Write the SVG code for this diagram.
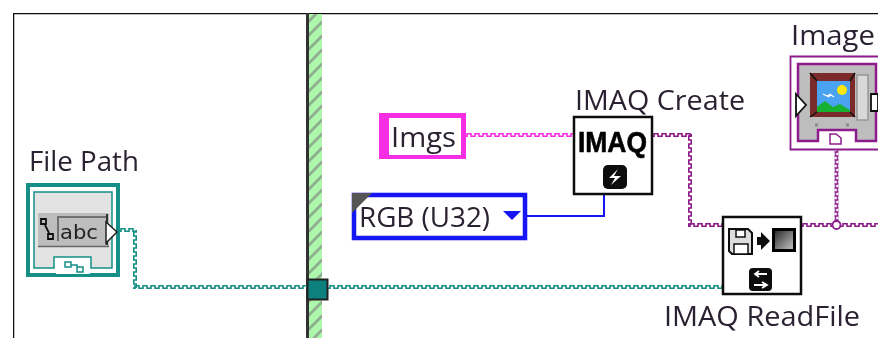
<svg xmlns="http://www.w3.org/2000/svg" width="878" height="338" viewBox="0 0 878 338">
<defs>
<pattern id="hatch" width="14" height="14" patternUnits="userSpaceOnUse" patternTransform="translate(309 0)">
<rect width="14" height="14" fill="#acf7ac"/>
<path d="M-2 9L9 -2M-2 23L16 5M5 16L16 5" stroke="#8fae8f" stroke-width="2.800" fill="none"/>
</pattern>
<pattern id="th" x="0" y="-2" width="8" height="4" patternUnits="userSpaceOnUse"><path d="M-1 3.200H2V.8H6V3.200H9" fill="none" stroke="#138f86" stroke-width="1.600"/></pattern>
<pattern id="tv" x="-2" y="0" width="4" height="8" patternUnits="userSpaceOnUse"><path d="M3.200 -1V2H.8V6H3.200V9" fill="none" stroke="#138f86" stroke-width="1.600"/></pattern>
<pattern id="ph" x="0" y="-2" width="8" height="4" patternUnits="userSpaceOnUse"><path d="M-1 3.200H2V.8H6V3.200H9" fill="none" stroke="#f52fe4" stroke-width="1.600"/></pattern>
<pattern id="uh" x="0" y="-2" width="8" height="4" patternUnits="userSpaceOnUse"><path d="M-1 3.200H2V.8H6V3.200H9" fill="none" stroke="#8c1c8c" stroke-width="1.600"/></pattern>
<pattern id="uv" x="-2" y="0" width="4" height="8" patternUnits="userSpaceOnUse"><path d="M3.200 -1V2H.8V6H3.200V9" fill="none" stroke="#8c1c8c" stroke-width="1.600"/></pattern>
<linearGradient id="g" x1="0" y1="0" x2="1" y2="1"><stop offset="0" stop-color="#222"/><stop offset="1" stop-color="#ccc"/></linearGradient>
<filter id="soft" x="0" y="0" width="100%" height="100%"><feGaussianBlur stdDeviation="0.45"/></filter>
<style>
text{font-family:"Open Sans","Noto Sans","Liberation Sans",sans-serif;font-size:28px;fill:#2b2230}
.box{fill:#fff;stroke:#111;stroke-width:2.5}
.ic{fill:#0b0b0b}
.w{fill:none;stroke-width:4}
.th{stroke:url(#th)}.tv{stroke:url(#tv)}.ph{stroke:url(#ph)}.uh{stroke:url(#uh)}.uv{stroke:url(#uv)}
</style>
</defs>
<rect width="878" height="338" fill="#fff"/>
<g filter="url(#soft)">
<path d="M13 338V13H878" fill="none" stroke="#111" stroke-width="2.500"/>
<rect x="309" y="14" width="13" height="324" fill="url(#hatch)"/>
<rect x="306" y="13" width="3" height="325" fill="#333"/>
<g id="connectors">
<path class="w th" transform="translate(119 230)" d="M0 0H17"/>
<path class="w tv" transform="translate(135 230)" d="M0 0V58"/>
<path class="w th" transform="translate(133 287)" d="M0 0H174"/>
<path class="w th" transform="translate(328 287)" d="M0 0H396"/>
<path class="w ph" transform="translate(465 135)" d="M0 0H109"/>
<path d="M527 216H604V195" fill="none" stroke="#1414f5" stroke-width="2"/>
<path class="w uh" transform="translate(652 135)" d="M0 0H40"/>
<path class="w uv" transform="translate(690 134)" d="M0 0V93"/>
<path class="w uh" transform="translate(688 225)" d="M0 0H36"/>
<path class="w uh" transform="translate(801 225)" d="M0 0H77"/>
<path class="w uv" transform="translate(836.500 150)" d="M0 0V72"/>
<circle cx="836.500" cy="225" r="4" fill="#fff" stroke="#8c1c8c" stroke-width="1.800"/>
</g>
<g id="tunnel"><rect x="307.500" y="279.500" width="20" height="20" fill="#0c7f7c" stroke="#222" stroke-width="2"/></g>
<g id="file-path">
<text x="29" y="171" textLength="110" lengthAdjust="spacingAndGlyphs">File Path</text>
<rect x="28" y="185" width="90" height="90" fill="#fff" stroke="#138f86" stroke-width="4"/>
<path d="M34 192H112V268H91V257H54V268H34Z" fill="#e3e3e3" stroke="#138f86" stroke-width="1.500"/>
<rect x="38" y="213" width="71" height="33" fill="#bdbdbd"/>
<path d="M38 246.500H109" stroke="#666" stroke-width="1.500"/>
<path d="M58 241V217H106" fill="none" stroke="#555" stroke-width="1.500"/>
<text x="60" y="239" textLength="38" lengthAdjust="spacingAndGlyphs" style="font-family:'DejaVu Sans',sans-serif;font-size:20px;fill:#222">abc</text>
<path d="M41 219h5v5h-5zM48 234h5v5h-5zM45 225l4 8" fill="none" stroke="#111" stroke-width="1.800"/>
<path d="M107 214V245" stroke="#333" stroke-width="2"/>
<path d="M106 222L117 232L106 243Z" fill="#fff" stroke="#222" stroke-width="1.500"/>
<rect x="56" y="260" width="34" height="14" fill="#fff"/>
<path d="M65 262h6v5h-6zM77 267h6v5h-6zM71 265h6v4" fill="none" stroke="#138f86" stroke-width="1.500"/>
</g>
<g id="imgs">
<rect x="379" y="113" width="87" height="46" fill="#f52fe4"/>
<rect x="389" y="118" width="72" height="37" fill="#fff"/>
<text x="391" y="147" textLength="65" lengthAdjust="spacingAndGlyphs">Imgs</text>
</g>
<g id="rgb-u32">
<path d="M354 195H525V238H354Z" fill="#fff" stroke="#1414f5" stroke-width="4.500"/>
<path d="M352 193H372L352 213Z" fill="#555"/>
<text x="359" y="227" textLength="131" lengthAdjust="spacingAndGlyphs">RGB (U32)</text>
<path d="M503 211H521L512 220Z" fill="#1414f5"/>
</g>
<g id="imaq-create">
<text x="575" y="110" textLength="170" lengthAdjust="spacingAndGlyphs">IMAQ Create</text>
<rect class="box" x="574" y="117" width="78" height="77"/>
<text x="578" y="152" textLength="69" lengthAdjust="spacingAndGlyphs" style="font-family:'Liberation Sans',sans-serif;font-weight:700;font-size:30px;fill:#000;stroke:#000;stroke-width:.6">IMAQ</text>
<rect class="ic" x="603" y="165" width="24" height="24" rx="5"/>
<path d="M618 169L609 178H615L611 185L621 176H614Z" fill="#fff"/>
</g>
<g id="imaq-readfile">
<rect class="box" x="723" y="217" width="78" height="77"/>
<path d="M729 229H748L752 233V254H732L729 251Z" fill="#ddd" stroke="#111" stroke-width="2"/>
<path d="M736 230h9v7h-9zM734 244h14v10h-14z" fill="#fff" stroke="#111" stroke-width="1.500"/>
<path d="M757 237h4v-5l9 9-9 9v-5h-4z" fill="#111"/>
<rect x="773.500" y="229.500" width="21" height="21" fill="url(#g)" stroke="#000" stroke-width="3"/>
<rect class="ic" x="749" y="268" width="23" height="23" rx="4"/>
<path d="M767 274H756M759 271L755 274L759 277M754 285H766M762 282L767 285L762 288" fill="none" stroke="#fff" stroke-width="1.800"/>
<text x="664" y="326" textLength="196" lengthAdjust="spacingAndGlyphs">IMAQ ReadFile</text>
</g>
<g id="image">
<text x="791" y="45" textLength="84" lengthAdjust="spacingAndGlyphs">Image</text>
<path d="M878 56.500H790.500V149.500H878" fill="#fff" stroke="#8c1c8c" stroke-width="1.800"/>
<path d="M876 64H798V141H818V130H856V141H876Z" fill="#bdbdbd" stroke="#8c1c8c" stroke-width="2.500"/>
<rect x="810" y="73" width="45" height="44" fill="#7a2a2a"/>
<rect x="817" y="81" width="33" height="31" fill="#4aa3f0"/>
<circle cx="842" cy="90" r="5" fill="#ffe60a"/>
<path d="M817 112V107L825 101L833 107L840 104L850 110V112Z" fill="#18b030"/>
<path d="M823 94l4 2 4-2M828 97l3-2 3 2" stroke="#fff" stroke-width="1.200" fill="none"/>
<path d="M810 73L817 81M855 73L850 81M810 117L817 112M855 117L850 112" stroke="#111" stroke-width="1.500"/>
<rect x="857" y="75" width="11" height="45" fill="#d8d8d8" stroke="#8a8a8a" stroke-width="1.200"/>
<path d="M815 125h45" stroke="#8a8a8a" stroke-width="3" stroke-dasharray="3 28"/>
<path d="M796 94L806 105L796 116Z" fill="#fff" stroke="#111" stroke-width="1.800"/>
<path d="M871 94h7v17h-7z" fill="#fff" stroke="#111" stroke-width="1.800"/>
<path d="M830 134h6l5 4v6h-11z" fill="#fff" stroke="#8c1c8c" stroke-width="1.500"/>
</g>
</g>
</svg>
